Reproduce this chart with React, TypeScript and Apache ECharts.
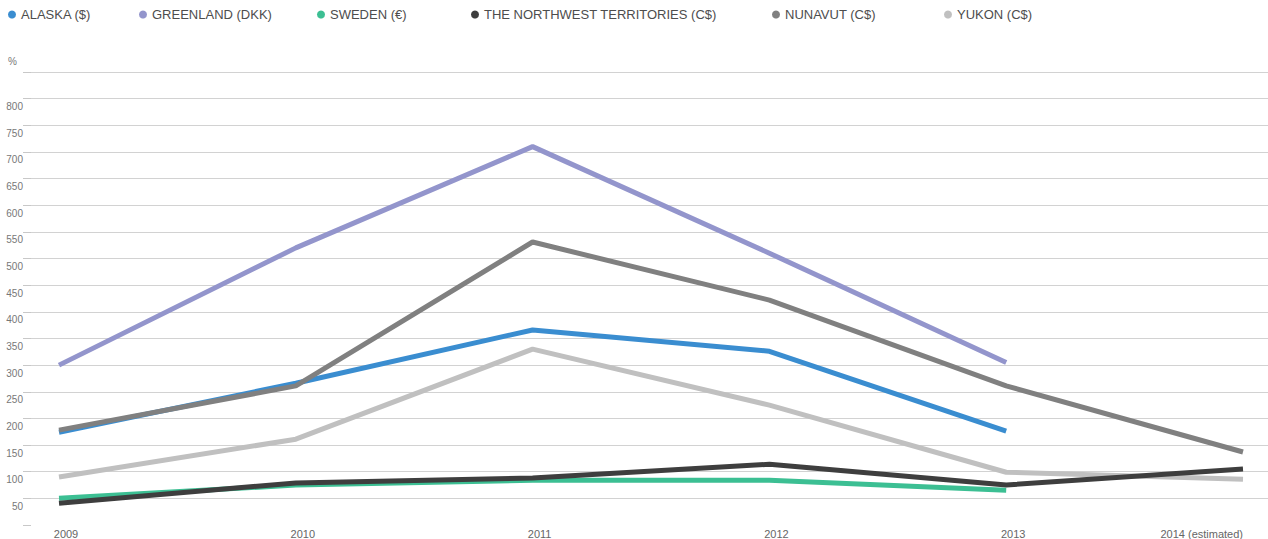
import React, { useEffect, useRef } from "react";
import * as echarts from "echarts";

const categories = ["2009", "2010", "2011", "2012", "2013", "2014 (estimated)"];
const seriesNames = [
  "ALASKA ($)",
  "GREENLAND (DKK)",
  "SWEDEN (€)",
  "THE NORTHWEST TERRITORIES (C$)",
  "NUNAVUT (C$)",
  "YUKON (C$)",
];
const alaska = [174, 266, 366, 326, 176, null];
const greenland = [300, 520, 710, 510, 305, null];
const sweden = [50, 75, 84, 84, 65, null];
const northwest = [41, 79, 88, 114, 75, 105];
const nunavut = [178, 261, 531, 422, 261, 137];
const yukon = [90, 161, 330, 225, 99, 86];
const colors = ["#3a8dd0", "#9395cc", "#3cbf93", "#3e3e3e", "#808080", "#c0c0c0"];
const yMin = 0;
const yMax = 850;
const yStep = 50;

const FONT = "'Liberation Sans', Arial, Helvetica, sans-serif";

export default function App() {
  const ref = useRef<HTMLDivElement>(null);
  useEffect(() => {
    if (!ref.current) return;
    const chart = echarts.init(ref.current, undefined, { renderer: "svg" });
    const values = [alaska, greenland, sweden, northwest, nunavut, yukon];
    const zs = [2, 2, 2, 5, 4, 3];
    const legendLefts = [8, 139, 317, 471, 772, 944];
    chart.setOption({
      animation: false,
      textStyle: { fontFamily: FONT },
      legend: seriesNames.map((n, i) => ({
        data: [n],
        left: legendLefts[i],
        top: 8,
        padding: 0,
        icon: "circle",
        itemWidth: 8,
        itemHeight: 8,
        selectedMode: false,
        textStyle: { fontSize: 13, color: "#4d4d4d", fontFamily: FONT },
      })),
      grid: [
        { left: 31, right: 0, top: 72, bottom: 14 },
        { left: 59, right: 25, top: 72, bottom: 14 },
      ],
      xAxis: [
        { type: "value", gridIndex: 0, show: false, min: 0, max: 1 },
        {
          type: "category",
          gridIndex: 1,
          data: categories,
          boundaryGap: false,
          axisLine: { show: false },
          axisTick: { show: false },
          axisLabel: {
            fontSize: 11,
            color: "#666",
            margin: 3,
            padding: [0, 0, 0, 14],
            alignMaxLabel: "right",
            interval: 0,
          },
        },
      ],
      yAxis: [
        {
          type: "value",
          gridIndex: 0,
          min: yMin,
          max: yMax,
          interval: yStep,
          offset: 7,
          name: "%",
          nameLocation: "end",
          nameGap: 11,
          nameTextStyle: {
            fontSize: 10,
            color: "#777",
            align: "right",
            verticalAlign: "middle",
            padding: [0, 14, 0, 0],
          },
          axisLine: { show: false },
          axisTick: { show: true, length: 8, lineStyle: { color: "#c8c8c8" } },
          axisLabel: {
            fontSize: 10,
            color: "#777",
            margin: 1,
            verticalAlign: "top",
            padding: [3, 0, 0, 0],
            formatter: (v: number) => (v === yMin || v === yMax ? "" : String(v)),
          },
          splitLine: {
            show: true,
            showMinLine: false,
            lineStyle: { color: "#d2d2d2", width: 1 },
          },
        },
        { type: "value", gridIndex: 1, min: yMin, max: yMax, show: false },
      ],
      series: seriesNames.map((n, i) => ({
        name: n,
        type: "line",
        xAxisIndex: 1,
        yAxisIndex: 1,
        data: values[i],
        color: colors[i],
        symbol: "none",
        z: zs[i],
        lineStyle: { width: 5, color: colors[i] },
        connectNulls: false,
      })),
    });
    return () => chart.dispose();
  }, []);
  return (
    <div
      ref={ref}
      style={{ position: "fixed", left: 0, top: 0, width: 1268, height: 539, background: "#fff" }}
    />
  );
}
